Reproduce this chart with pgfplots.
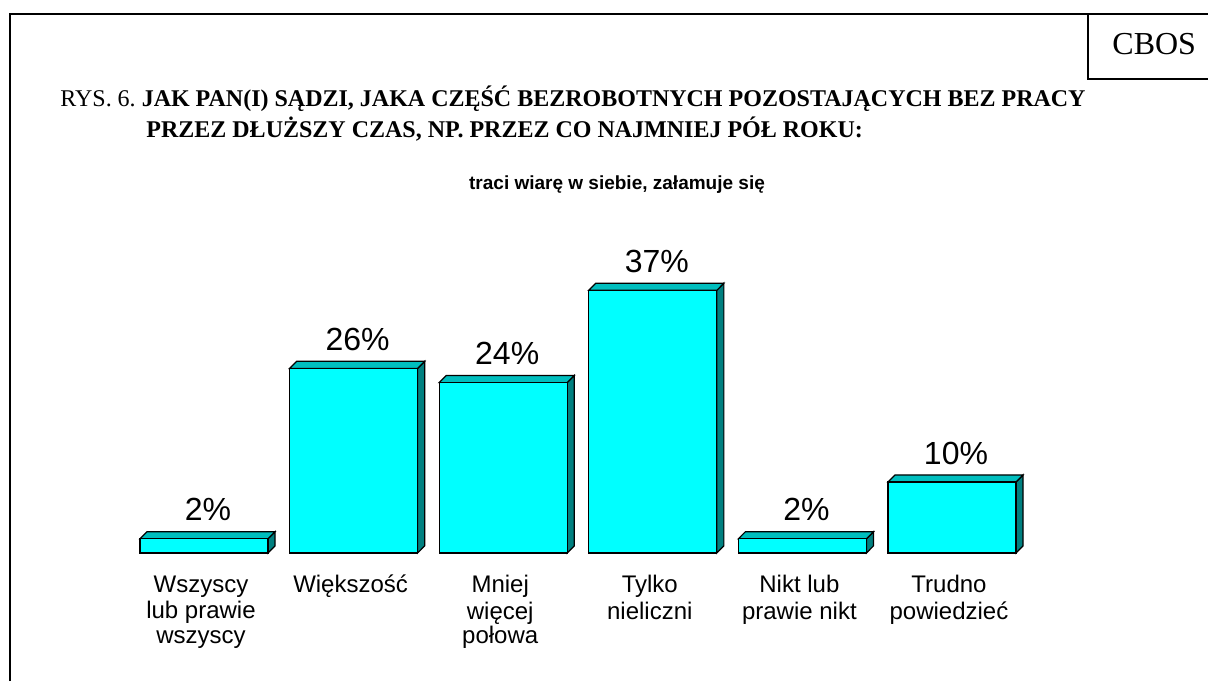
\documentclass[border=0pt]{standalone}
\usepackage{pgfplots}
\pgfplotsset{compat=1.18}
\usepackage{fontspec}
\setmainfont{Liberation Serif}
\newfontfamily\arial{Liberation Sans}
\definecolor{front}{RGB}{0,255,255}
\definecolor{cap}{RGB}{0,190,190}
\definecolor{side}{RGB}{0,128,128}
\frenchspacing
\begin{document}
\begin{tikzpicture}[x=1pt,y=1pt]
\useasboundingbox (0,0) rectangle (604,340.5);
% frame
\draw[line width=1.1pt] (5,0) -- (5,333.5) -- (604,333.5);
\draw[line width=1.1pt] (544,333.5) -- (544,301) -- (604,301);
\node[anchor=base west,inner sep=0pt,font=\fontsize{16}{19}\selectfont] at (556,313) {CBOS};
\node[anchor=base west,inner sep=0pt,font=\fontsize{12}{14}\selectfont] at (30,287) {RYS. 6. \textbf{JAK PAN(I) SĄDZI, JAKA CZĘŚĆ BEZROBOTNYCH POZOSTAJĄCYCH BEZ PRACY}};
\node[anchor=base west,inner sep=0pt,font=\fontsize{12}{14}\selectfont\bfseries] at (73,271.5) {PRZEZ DŁUŻSZY CZAS, NP. PRZEZ CO NAJMNIEJ PÓŁ ROKU:};
\node[anchor=base,inner sep=0pt,font=\arial\bfseries\fontsize{9.5}{11}\selectfont] at (308.5,245.5) {traci wiarę w siebie, załamuje się};
\begin{axis}[
  at={(64.6pt,64pt)}, anchor=south west,
  scale only axis, width=448.8pt, height=142pt,
  xmin=-0.5, xmax=5.5, ymin=0, ymax=40,
  clip=false,
  axis line style={draw=none},
  tick style={draw=none},
  ytick=\empty,
  xtick={0,1,2,3,4,5},
  xticklabels={{Wszyscy\\lub prawie\\wszyscy},{Większość},{Mniej\\więcej\\połowa},{Tylko\\nieliczni},{Nikt lub\\prawie nikt},{Trudno\\powiedzieć}},
  typeset ticklabels with strut,
  xticklabel style={font=\arial\fontsize{12}{12.2}\selectfont, align=center, anchor=north, inner sep=0pt, yshift=-10.8pt, xshift=-1.5pt},
  /pgf/number format/assume math mode=true,
]
% side faces
\addplot[sharp plot, fill=side, draw=black, line width=0.6pt] coordinates {(0.428,0) (0.428,2) (0.475,3) (0.475,1)} -- cycle;
\addplot[sharp plot, fill=side, draw=black, line width=0.6pt] coordinates {(1.428,0) (1.428,26) (1.475,27) (1.475,1)} -- cycle;
\addplot[sharp plot, fill=side, draw=black, line width=0.6pt] coordinates {(2.428,0) (2.428,24) (2.475,25) (2.475,1)} -- cycle;
\addplot[sharp plot, fill=side, draw=black, line width=0.6pt] coordinates {(3.428,0) (3.428,37) (3.475,38) (3.475,1)} -- cycle;
\addplot[sharp plot, fill=side, draw=black, line width=0.6pt] coordinates {(4.428,0) (4.428,2) (4.475,3) (4.475,1)} -- cycle;
\addplot[sharp plot, fill=side, draw=black, line width=0.6pt] coordinates {(5.428,0) (5.428,10) (5.475,11) (5.475,1)} -- cycle;
% top faces
\addplot[sharp plot, fill=cap, draw=black, line width=0.6pt] coordinates {(-0.428,2) (-0.381,3) (0.475,3) (0.428,2)} -- cycle;
\addplot[sharp plot, fill=cap, draw=black, line width=0.6pt] coordinates {(0.572,26) (0.619,27) (1.475,27) (1.428,26)} -- cycle;
\addplot[sharp plot, fill=cap, draw=black, line width=0.6pt] coordinates {(1.572,24) (1.619,25) (2.475,25) (2.428,24)} -- cycle;
\addplot[sharp plot, fill=cap, draw=black, line width=0.6pt] coordinates {(2.572,37) (2.619,38) (3.475,38) (3.428,37)} -- cycle;
\addplot[sharp plot, fill=cap, draw=black, line width=0.6pt] coordinates {(3.572,2) (3.619,3) (4.475,3) (4.428,2)} -- cycle;
\addplot[sharp plot, fill=cap, draw=black, line width=0.6pt] coordinates {(4.572,10) (4.619,11) (5.475,11) (5.428,10)} -- cycle;
% front faces
\addplot[ybar, bar width=0.856, bar shift=0, fill=front, draw=black, line width=0.6pt,
  point meta=y,
  nodes near coords={\pgfmathprintnumber{\pgfplotspointmeta}\%},
  nodes near coords align={vertical},
  every node near coord/.append style={font=\arial\fontsize{16}{19}\selectfont, anchor=base, inner sep=0pt, yshift=9pt, xshift=2pt, color=black}]
  coordinates {(0,2) (1,26) (2,24) (3,37) (4,2) (5,10)};
\end{axis}
\end{tikzpicture}
\end{document}
